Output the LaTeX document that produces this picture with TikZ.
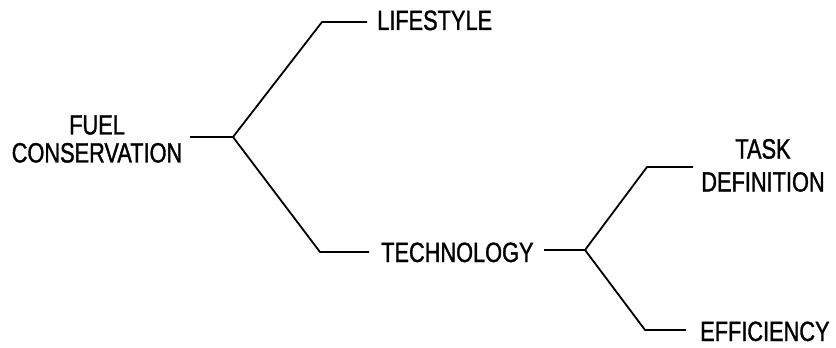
\documentclass[tikz,border=0pt]{standalone}
\usepackage{fontspec}
\setmainfont{Liberation Sans}[FakeStretch=0.78,FakeBold=1.2]
\begin{document}
\begin{tikzpicture}[x=1pt,y=-1pt,
  lbl/.style={font=\fontsize{27.9}{28}\selectfont, inner sep=0pt, text=black},
  link/.style={line width=1.8pt, line join=miter, black}]
\useasboundingbox (0,0) rectangle (836,348);
% text nodes
\node[lbl, align=center] (fuel) at (97,139) {FUEL\\CONSERVATION};
\node[lbl, anchor=base west] (life) at (377,30) {LIFESTYLE};
\node[lbl, anchor=base west] (tech) at (381,262) {TECHNOLOGY};
\node[lbl, align=center, anchor=south] (task) at (763,192) {TASK\\[5pt]DEFINITION};
\node[lbl, anchor=base west] (eff) at (700,341) {EFFICIENCY};
% junctions and bends
\coordinate (j1) at (233,137);
\coordinate (b1) at (322,22);
\coordinate (b2) at (320,252);
\coordinate (j2) at (585,250);
\coordinate (b3) at (647,167);
\coordinate (b4) at (645,330);
% connectors
\draw[link] ([xshift=8pt]fuel.east |- j1) -- (j1);
\draw[link] (j1) -- (b1) -- ([xshift=-10pt]b1 -| life.west);
\draw[link] (j1) -- (b2) -- ([xshift=-12pt]b2 -| tech.west);
\draw[link] ([xshift=10pt]tech.east |- j2) -- (j2);
\draw[link] (j2) -- (b3) -- ([xshift=-8pt]b3 -| task.west);
\draw[link] (j2) -- (b4) -- ([xshift=-14pt]b4 -| eff.west);
\end{tikzpicture}
\end{document}
